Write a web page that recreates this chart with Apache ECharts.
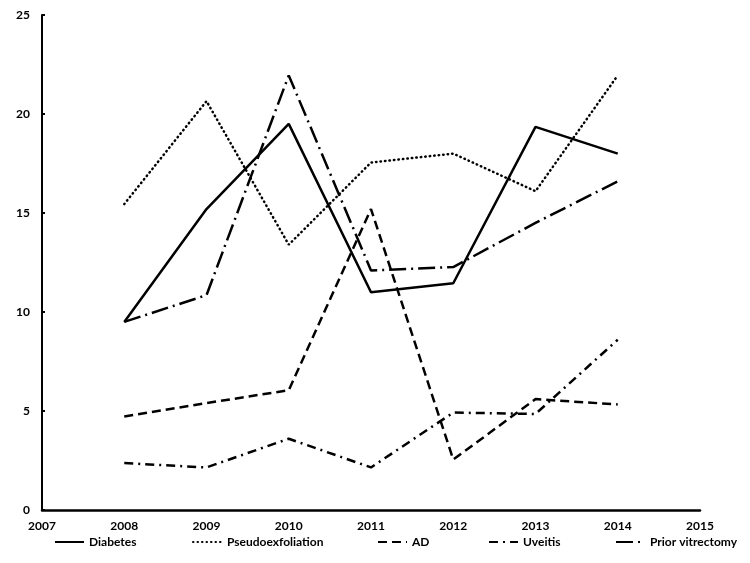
<!DOCTYPE html>
<html>
<head>
<meta charset="utf-8">
<script src="https://cdn.jsdelivr.net/npm/echarts@6/dist/echarts.min.js"></script>
<style>
  html, body { margin: 0; padding: 0; background: #fff; }
  #main { width: 750px; height: 563px; }
</style>
</head>
<body>
<div id="main"></div>
<script>
// years on the x axis
var years = [2008, 2009, 2010, 2011, 2012, 2013, 2014];

// values
var diabetes = [9.5, 15.2, 19.5, 11.0, 11.45, 19.35, 18.0];
var pseudoexfoliation = [15.45, 20.65, 13.4, 17.55, 18.0, 16.1, 21.95];
var ad = [4.72, 5.4, 6.05, 15.2, 2.55, 5.6, 5.33];
var uveitis = [2.37, 2.15, 3.6, 2.15, 4.92, 4.85, 8.6];
var priorVitrectomy = [9.5, 10.85, 21.95, 12.1, 12.27, 14.5, 16.6];

var seriesNames = ['Diabetes', 'Pseudoexfoliation', 'AD', 'Uveitis', 'Prior vitrectomy'];
var yTicks = [0, 5, 10, 15, 20, 25];

var chart = echarts.init(document.getElementById('main'));

//把年份和数值拼成点
function pairs(vals){
  var out = [];
  for (var i = 0; i < years.length; i++) out.push([years[i], vals[i]]);
  return out;
}

var font = 'Lato, "Open Sans", sans-serif';
var dashStyles = [
  { type: 'solid', width: 2.5 },
  { type: [0.5, 4], width: 2.5, cap: 'round' },
  { type: [9, 5], width: 2.5 },
  { type: [9, 5, 2, 5], width: 2.5 },
  { type: [17, 5, 2, 5], width: 2.5 }
];
var allData = [diabetes, pseudoexfoliation, ad, uveitis, priorVitrectomy];
// each legend item placed on its own, like Excel spaces them
var legendLeft = [54, 192, 377, 488, 615];

var series = [], legends = [];
for (var k = 0; k < seriesNames.length; k++) {
  series.push({
    name: seriesNames[k],
    type: 'line',
    data: pairs(allData[k]),
    symbol: 'none',
    lineStyle: Object.assign({ color: '#000' }, dashStyles[k]),
    itemStyle: { color: '#000' },
    z: 2
  });
  legends.push({
    data: [seriesNames[k]],
    left: legendLeft[k],
    top: 536,
    padding: 0,
    itemWidth: 29,
    itemHeight: 14,
    itemGap: 0,
    selectedMode: false,
    itemStyle: { color: 'rgba(0,0,0,0)', borderWidth: 0, opacity: 0 },
    textStyle: { color: '#000', fontSize: 12, fontWeight: 'bold', fontFamily: font }
  });
}

chart.setOption({
  animation: false,
  backgroundColor: '#fff',
  grid: { left: 42, right: 50, top: 15, bottom: 53 },
  legend: legends,
  xAxis: {
    type: 'value',
    min: 2007,
    max: 2015,
    interval: 1,
    axisLine: { lineStyle: { color: '#000', width: 2.5 } },
    axisTick: { show: false },
    splitLine: { show: false },
    axisLabel: {
      color: '#000', fontSize: 12, fontWeight: 'bold', fontFamily: font, margin: 10,
      formatter: function(v){ return String(v); }
    }
  },
  yAxis: {
    type: 'value',
    min: yTicks[0],
    max: yTicks[yTicks.length - 1],
    interval: 5,
    axisLine: { show: true, lineStyle: { color: '#000', width: 2 } },
    axisTick: { show: true, inside: true, length: 3, lineStyle: { color: '#000', width: 2 } },
    splitLine: { show: false },
    axisLabel: { color: '#000', fontSize: 12, fontWeight: 'bold', fontFamily: font, margin: 12 }
  },
  series: series
});
</script>
</body>
</html>
